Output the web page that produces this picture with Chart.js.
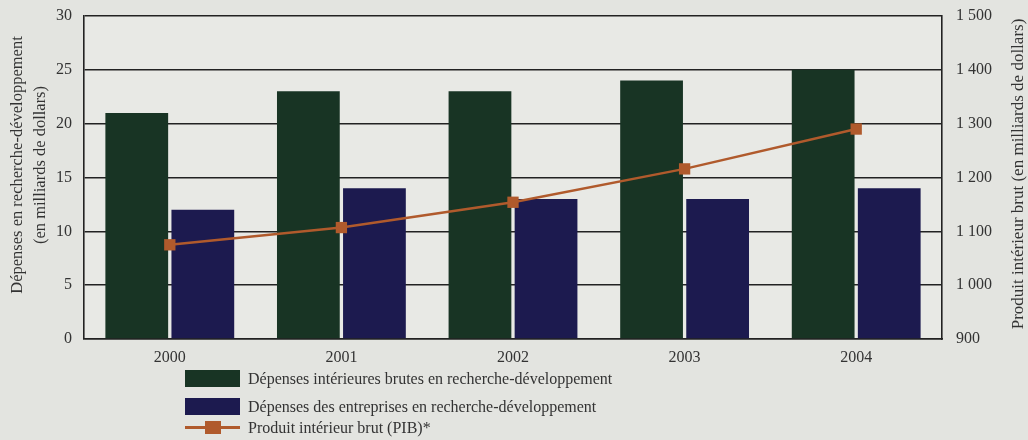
<!DOCTYPE html>
<html lang="fr">
  <head>
    <meta charset="UTF-8" />
    <title>Dépenses en R-D et PIB 2000-2004</title>
    <script src="https://cdn.jsdelivr.net/npm/chart.js"></script>
    <style>
      body { margin: 0; background: #e3e4e0; font-family: "Liberation Serif", serif; color: #333; }
      #wrap { position: relative; width: 1028px; height: 440px; }
      .leg { position: absolute; left: 185px; font-size: 16px; white-space: nowrap; }
      .leg .box { position: absolute; left: 0; width: 55px; height: 17px; }
      .leg .txt { position: absolute; left: 63px; top: 0; line-height: 17px; }
    </style>
  </head>
  <body>
    <div id="wrap">
      <canvas id="myChart" width="1028" height="440"></canvas>
      <div id="legend"></div>
    </div>

    <script>
      const years = ["2000", "2001", "2002", "2003", "2004"];
      const dird = [21, 23, 23, 24, 25];       // dépenses intérieures brutes en R-D
      const dird_ent = [12, 14, 13, 13, 14];   // dépenses des entreprises en R-D
      const pib = [1075, 1107, 1154, 1216, 1290];
      const leftTicks = [0, 5, 10, 15, 20, 25, 30];
      const rightTicks = [900, 1000, 1100, 1200, 1300, 1400, 1500];

      const green = "#183424";
      const blue = "#1c1a4f";
      const orange = "#b05a2c";
      const labelFont = { family: "Liberation Serif", size: 16 };

      const fmt = (v) => String(v).replace(/\B(?=(\d{3})+$)/g, " ");

      // fond de la zone de tracé + titres des axes
      const decor = {
        id: "decor",
        beforeDraw(chart) {
          const { ctx, chartArea: a } = chart;
          ctx.save();
          ctx.fillStyle = "#e8e9e5";
          ctx.fillRect(a.left, a.top, a.right - a.left, a.bottom - a.top);
          ctx.restore();
        },
        afterDraw(chart) {
          const ctx = chart.ctx;
          ctx.save();
          ctx.fillStyle = "#333";
          ctx.font = "16.5px 'Liberation Serif'";
          ctx.textAlign = "center";
          ctx.textBaseline = "middle";
          ctx.translate(18, 165);
          ctx.rotate(-Math.PI / 2);
          ctx.fillText("Dépenses en recherche-développement", 0, 0);
          ctx.fillText("(en milliards de dollars)", 0, 23);
          ctx.restore();
          ctx.save();
          ctx.fillStyle = "#333";
          ctx.font = "17px 'Liberation Serif'";
          ctx.textAlign = "center";
          ctx.textBaseline = "middle";
          ctx.translate(1019, 174);
          ctx.rotate(-Math.PI / 2);
          ctx.fillText("Produit intérieur brut (en milliards de dollars)", 0, 0);
          ctx.restore();
        },
      };

      const fixWidth = (w) => (s) => {
        s.width = w;
        s.paddingTop = 0;
        s.paddingBottom = 0;
      };

      const ctx = document.getElementById("myChart").getContext("2d");
      const myChart = new Chart(ctx, {
        type: "bar",
        data: {
          labels: years,
          datasets: [
            {
              type: "line",
              label: "Produit intérieur brut (PIB)*",
              data: pib,
              yAxisID: "y1",
              borderColor: orange,
              backgroundColor: orange,
              borderWidth: 2.5,
              pointStyle: "rect",
              pointRadius: 8,
              pointBorderWidth: 0,
              order: 0,
            },
            {
              label: "Dépenses intérieures brutes en recherche-développement",
              data: dird,
              backgroundColor: green,
              categoryPercentage: 0.77,
              barPercentage: 0.95,
              order: 1,
            },
            {
              label: "Dépenses des entreprises en recherche-développement",
              data: dird_ent,
              backgroundColor: blue,
              categoryPercentage: 0.77,
              barPercentage: 0.95,
              order: 1,
            },
          ],
        },
        options: {
          responsive: false,
          animation: false,
          layout: { padding: { top: 16 } },
          plugins: { legend: { display: false }, tooltip: { enabled: false } },
          scales: {
            x: {
              grid: { display: false },
              border: { display: true, color: "#222", width: 1.6 },
              ticks: { color: "#333", font: labelFont, padding: 1 },
              afterFit: (s) => { s.height = 101; },
            },
            y: {
              position: "left",
              min: 0,
              max: 30,
              afterBuildTicks: (s) => { s.ticks = leftTicks.map((v) => ({ value: v })); },
              grid: { color: "#222", lineWidth: 1.6, drawTicks: false },
              border: { display: true, color: "#222", width: 1.6 },
              ticks: { color: "#333", font: labelFont, padding: 12 },
              afterFit: fixWidth(84),
            },
            y1: {
              position: "right",
              min: 900,
              max: 1500,
              afterBuildTicks: (s) => { s.ticks = rightTicks.map((v) => ({ value: v })); },
              grid: { display: false, drawTicks: false },
              border: { display: true, color: "#222", width: 1.6 },
              ticks: { color: "#333", font: labelFont, padding: 14, callback: (v) => fmt(v) },
              afterFit: fixWidth(86),
            },
          },
        },
        plugins: [decor],
      });

      // légende verticale sous le graphique
      const legTop = [370, 398, 419];
      const legend = document.getElementById("legend");
      [1, 2, 0].forEach((di, i) => {
        const ds = myChart.data.datasets[di];
        const row = document.createElement("div");
        row.className = "leg";
        row.style.top = legTop[i] + "px";
        let icon;
        if (ds.type === "line") {
          icon = '<div class="box" style="height:17px"><div style="position:absolute;left:0;top:7px;width:55px;height:3px;background:' + orange +
            '"></div><div style="position:absolute;left:20px;top:2px;width:16px;height:13px;background:' + orange + '"></div></div>';
        } else {
          icon = '<div class="box" style="background:' + ds.backgroundColor + '"></div>';
        }
        row.innerHTML = icon + '<span class="txt">' + ds.label + "</span>";
        legend.appendChild(row);
      });
    </script>
  </body>
</html>
